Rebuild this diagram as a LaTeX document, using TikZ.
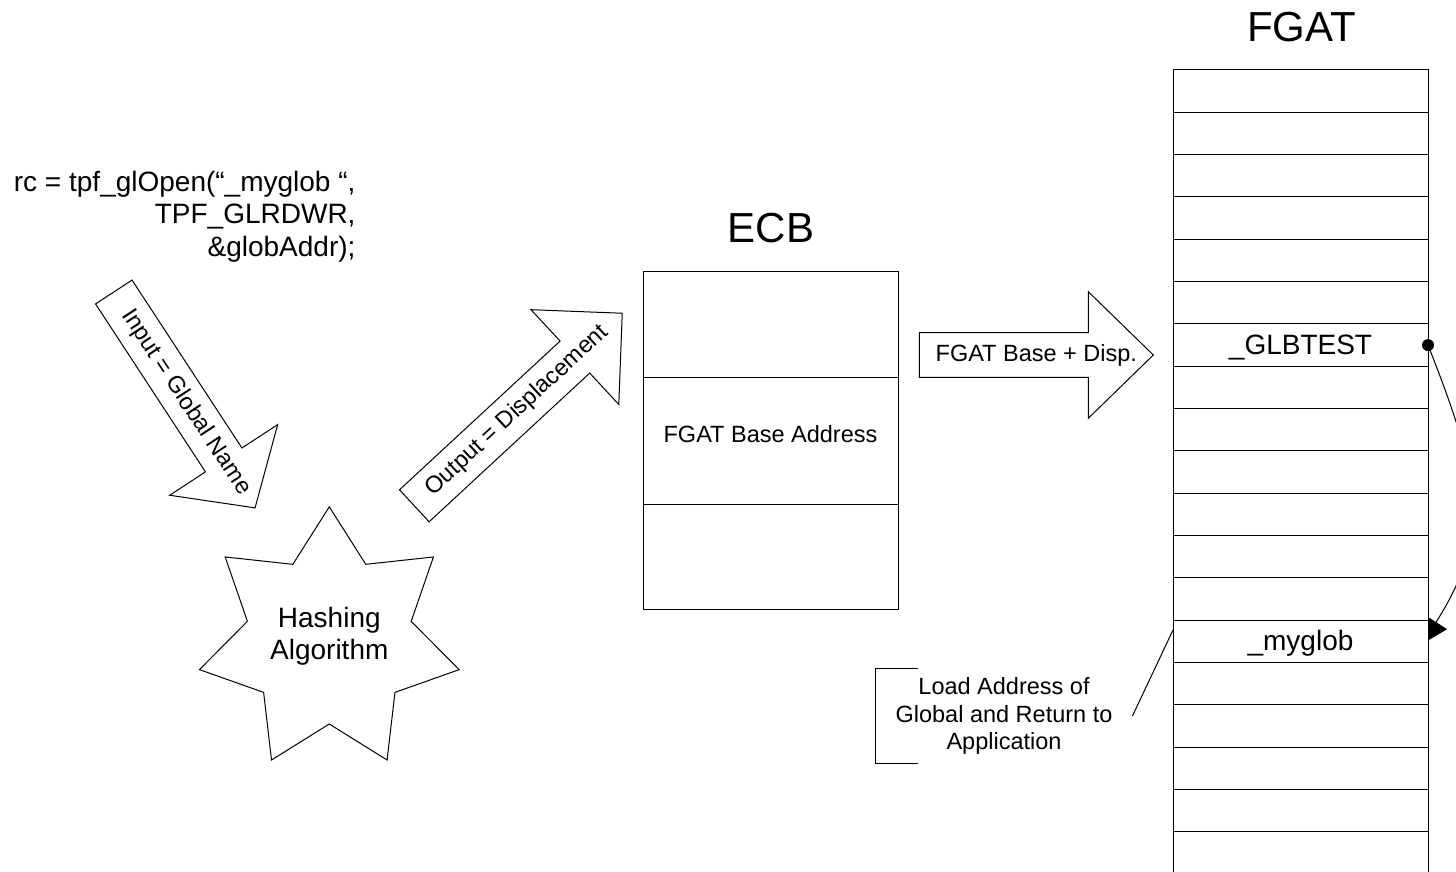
\documentclass[tikz,border=0pt]{standalone}
\usepackage{fontspec}
\setmainfont{Liberation Sans}
\usetikzlibrary{arrows.meta,calc}
\begin{document}
\begin{tikzpicture}[x=1pt,y=-1pt,line width=1pt,
  txt/.style={inner sep=0pt, font=\fontsize{23.5}{27.5}\selectfont},
  bigtxt/.style={inner sep=0pt, font=\fontsize{28}{32.5}\selectfont},
  titletxt/.style={inner sep=0pt, font=\fontsize{42}{48}\selectfont},
  cell/.style={draw, fill=white, minimum width=255pt, minimum height=42.33pt, inner sep=0pt, outer sep=0pt},
  ecbcell/.style={draw, fill=white, minimum width=255pt, inner sep=0pt, outer sep=0pt},
  fatarrow/.style={draw, fill=white, line join=miter},
]
\fill[white] (0,0) rectangle (1456,872);
\useasboundingbox (0,0) rectangle (1456,872);

% code text
\node[bigtxt, align=right, anchor=east] (code) at (356,216.5)
  {rc = tpf\_glOpen(“\_myglob “,\\TPF\_GLRDWR,\\\&globAddr);};

% input arrow
\begin{scope}[shift={(113.8,292)}, rotate=-56.8]
  \draw[fatarrow] (0,-21.8) -- (200.7,-21.8) -- (200.7,-64.5) -- (258,0)
    -- (200.7,64.5) -- (200.7,21.8) -- (0,21.8) -- cycle;
  \node[txt, rotate=-56.8] (inlbl) at (132,0) {Input = Global Name};
\end{scope}

% output arrow
\begin{scope}[shift={(414.3,505.8)}, rotate=42.8]
  \draw[fatarrow] (0,-21.8) -- (218.9,-21.8) -- (218.9,-64.6) -- (283.4,0)
    -- (218.9,64.6) -- (218.9,21.8) -- (0,21.8) -- cycle;
  \node[txt, rotate=42.8] (outlbl) at (140,0) {Output = Displacement};
\end{scope}

% FGAT base arrow
\begin{scope}[shift={(919.3,355)}]
  \draw[fatarrow] (0,-22.3) -- (169,-22.3) -- (169,-63.3) -- (234,0)
    -- (169,63.3) -- (169,22.3) -- (0,22.3) -- cycle;
  \node[txt] (baselbl) at (117,0) {FGAT Base + Disp.};
\end{scope}

% hashing star
\begin{scope}[shift={(329.3,640)}]
  \draw[fill=white, line join=miter] (-90:133.2)
    \foreach \k in {0,...,6}{ -- ({-90+(\k+0.5)*360/7}:84) -- ({-90+(\k+1)*360/7}:133.2)} -- cycle;
\end{scope}
\node[bigtxt, align=center] (hash) at (329.3,636.5) {Hashing\\Algorithm};

% ECB
\node[titletxt, anchor=base] (ecbtitle) at (771,242) {ECB};
\node[ecbcell, minimum height=106pt, anchor=north west] (ecbtop) at (643,271) {};
\node[ecbcell, minimum height=127pt, anchor=north] (ecbmid) at (ecbtop.south) {};
\node[ecbcell, minimum height=105pt, anchor=north] (ecbbot) at (ecbmid.south) {};
\node[txt] (ecbtxt) at ($(ecbmid.center)+(0,-6.5)$) {FGAT Base Address};

% curved pointer (drawn below the table)
\coordinate (dot) at (1428,345.1);
\coordinate (tipin) at (1422,644);
\draw[-{Triangle[length=26pt,width=26pt]}] (dot) .. controls (1479.5,475) and (1492,535) .. (tipin);

% FGAT table
\node[titletxt, anchor=base] (fgattitle) at (1301.5,42) {FGAT};
\foreach \k in {0,...,18}
  \node[cell, anchor=north west] (r\k) at (1173,{70+42.33*\k}) {};
\node[bigtxt] (glbtest) at ($(r6.center)+(0,2)$) {\_GLBTEST};
\node[bigtxt] (myglob) at ($(r13.center)+(0,2)$) {\_myglob};
\fill (dot) circle[radius=6pt];

% callout
\node[txt, align=center, minimum height=94pt, inner xsep=19.5pt] (callout) at (1004,716)
  {Load Address of\\Global and Return to\\Application};
\draw ($(callout.north west)+(42,0)$) -- (callout.north west) -- (callout.south west) -- ($(callout.south west)+(42,0)$);
\draw (callout.east) -- ($(r13.north west)+(0,9.7)$);
\end{tikzpicture}
\end{document}
